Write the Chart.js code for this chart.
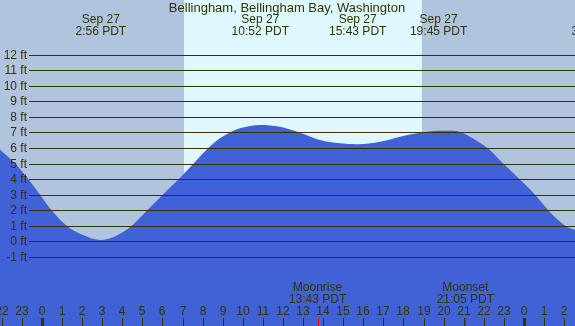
<!DOCTYPE html>
<html>
<head>
<meta charset="utf-8">
<script src="https://cdn.jsdelivr.net/npm/chart.js@4"></script>
<style>
  html, body { margin: 0; padding: 0; background: #b0c4de; }
  canvas { display: block; }
</style>
</head>
<body>
<canvas id="tideChart" width="575" height="326"></canvas>
<script>
// tide curve (hours from midnight Sep 27, feet)
const tideHours = [-2.09, -1.34, -0.68, -0.10, 0.48, 1.23, 2.04, 2.93, 3.70, 4.47, 5.24, 6.01, 6.82, 7.55,
    8.28, 8.86, 9.36, 9.86, 10.36, 10.87, 11.85, 12.85, 13.84, 14.84, 15.72, 16.83, 17.83, 18.82, 19.75,
    20.47, 20.97, 21.31, 22.18, 22.97, 23.77, 24.55, 25.21, 26.05, 26.54];
const tideFeet = [5.9, 5.0, 4.0, 3.0, 2.0, 1.0, 0.4, 0.08, 0.35, 1.0, 2.0, 3.0, 4.0, 5.0,
    6.0, 6.62, 7.0, 7.27, 7.41, 7.48, 7.37, 6.98, 6.51, 6.3, 6.24, 6.4, 6.73, 6.98, 7.11,
    7.11, 6.95, 6.73, 6.0, 5.0, 4.0, 3.0, 2.0, 1.0, 0.73];

// high / low tide labels along the top
const extremeTimes = [2.93, 10.87, 15.72, 19.75, 27.63];
const extremeDates = ['Sep 27', 'Sep 27', 'Sep 27', 'Sep 27', 'Sep 28'];
const extremeLabels = ['2:56 PDT', '10:52 PDT', '15:43 PDT', '19:45 PDT', '3:38 PDT'];

// sunrise / sunset
const daylight = [7.07, 18.92];

// moon events
const moonNames = ['Moonrise', 'Moonset'];
const moonTimes = [13.72, 21.08];
const moonLabels = ['13:43 PDT', '21:05 PDT'];

// axis ticks
const footTicks = [-1, 0, 1, 2, 3, 4, 5, 6, 7, 8, 9, 10, 11, 12];
const hourTicks = [-2, -1, 0, 1, 2, 3, 4, 5, 6, 7, 8, 9, 10, 11, 12, 13, 14, 15, 16, 17, 18, 19,
    20, 21, 22, 23, 24, 25, 26];

const textColor = '#333300';
const font = '12px "Liberation Sans", Arial, sans-serif';
const titleFont = '13px "Liberation Sans", Arial, sans-serif';

// backgrounds, grid, labels drawn with the chart's own scales
const tidePlugin = {
    id: 'tideDecor',
    beforeDatasetsDraw(chart) {
        const ctx = chart.ctx;
        const x = chart.scales.x;
        const area = chart.chartArea;
        ctx.save();
        ctx.fillStyle = '#b0c4de';
        ctx.fillRect(area.left, area.top, area.right - area.left, area.bottom - area.top);
        const x0 = Math.round(x.getPixelForValue(daylight[0]));
        const x1 = Math.round(x.getPixelForValue(daylight[1]));
        ctx.fillStyle = '#ddf8ff';
        ctx.fillRect(x0, area.top, x1 - x0, area.bottom - area.top);
        ctx.restore();
    },
    afterDatasetsDraw(chart) {
        const ctx = chart.ctx;
        const x = chart.scales.x;
        const y = chart.scales.y;
        const area = chart.chartArea;
        ctx.save();
        ctx.font = font;
        ctx.fillStyle = textColor;

        // horizontal foot lines and labels
        ctx.strokeStyle = textColor;
        ctx.lineWidth = 1;
        ctx.textAlign = 'right';
        ctx.textBaseline = 'middle';
        footTicks.forEach(function(ft) {
            const py = Math.round(y.getPixelForValue(ft)) + 0.5;
            ctx.beginPath();
            ctx.moveTo(29, py);
            ctx.lineTo(area.right, py);
            ctx.stroke();
            ctx.fillText(ft + ' ft', 27, py);
        });

        // title
        ctx.textAlign = 'center';
        ctx.font = titleFont;
        ctx.fillText('Bellingham, Bellingham Bay, Washington', 287, 8);
        ctx.font = font;

        // tide extremes
        extremeTimes.forEach(function(t, i) {
            const px = x.getPixelForValue(t);
            ctx.fillText(extremeDates[i], px, 20);
            ctx.fillText(extremeLabels[i], px, 32);
        });

        // moon events
        moonTimes.forEach(function(t, i) {
            const px = x.getPixelForValue(t);
            ctx.fillText(moonNames[i], px, 288);
            ctx.fillText(moonLabels[i], px, 300);
        });

        // hour labels and ticks
        hourTicks.forEach(function(h) {
            const px = Math.round(x.getPixelForValue(h));
            const label = ((h % 24) + 24) % 24;
            ctx.fillText(String(label), px, 312);
            if (label === 0) {
                ctx.fillRect(px - 1, 318, 3, 8);
            } else {
                ctx.fillRect(px, 318, 1, 8);
            }
        });
        ctx.fillStyle = '#ff0000';
        moonTimes.forEach(function(t) {
            const px = Math.round(x.getPixelForValue(t));
            ctx.fillRect(px, 318, 1, 8);
        });
        ctx.restore();
    }
};

document.addEventListener('DOMContentLoaded', function() {
    const ctx = document.getElementById('tideChart').getContext('2d');
    new Chart(ctx, {
        type: 'line',
        data: {
            datasets: [{
                label: 'Tide',
                data: tideHours.map(function(h, i) { return { x: h, y: tideFeet[i] }; }),
                fill: 'start',
                backgroundColor: '#4161d6',
                borderColor: '#4161d6',
                borderWidth: 0,
                pointRadius: 0,
                cubicInterpolationMode: 'monotone'
            }]
        },
        options: {
            responsive: false,
            animation: false,
            devicePixelRatio: 1,
            layout: { padding: 0 },
            plugins: { legend: { display: false }, tooltip: { enabled: false }, title: { display: false } },
            scales: {
                x: { type: 'linear', min: -2.09, max: 26.54, display: false },
                y: { type: 'linear', min: -5.45, max: 15.52, display: false }
            }
        },
        plugins: [tidePlugin]
    });
});
</script>
</body>
</html>
